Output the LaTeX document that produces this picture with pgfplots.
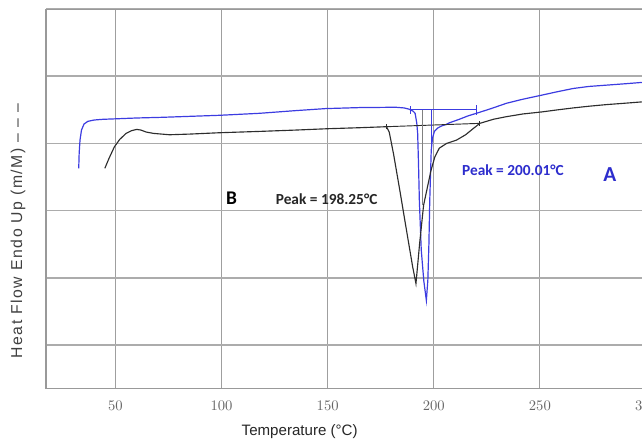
\documentclass[border=0pt]{standalone}
\usepackage{pgfplots}
\pgfplotsset{compat=1.18}
\usepackage{fontspec}
\setmainfont{Liberation Sans}
\newfontfamily\carlito{Carlito}
\newfontfamily\tickfont{Liberation Serif}
\usetikzlibrary{calc}
\definecolor{curveA}{RGB}{60,60,225}
\definecolor{textA}{RGB}{45,45,205}
\definecolor{curveB}{RGB}{45,45,45}
\definecolor{gridc}{RGB}{172,172,172}
\begin{document}
\begin{tikzpicture}
\begin{axis}[
  scale only axis, width=449.5pt, height=284.25pt,
  xmin=17.3, xmax=300, ymin=-0.657, ymax=5,
  xtick={50,100,...,300}, ytick={0,1,2,3,4,5}, yticklabels={},
  tick style={draw=none},
  grid=major,
  x grid style={draw=gray!75, line width=0.7pt},
  y grid style={draw=gridc, line width=1.4pt},
  axis line style={draw=gray!80, line width=1pt},
  xticklabel style={font=\tickfont\fontsize{11}{13}\selectfont, text=black!60, yshift=-6pt},
  xlabel={Temperature (\textdegree C)},
  xlabel style={at={(axis description cs:0.4227,-0.113)}, anchor=center, font=\fontsize{11.3}{13}\selectfont, text=black!85},
  ylabel={Heat Flow Endo Up (m/M) – – –},
  ylabel style={at={(axis description cs:-0.0467,0.415)}, anchor=center, rotate=0, font=\addfontfeature{LetterSpace=10}\fontsize{11.8}{13}\selectfont, text=black!75},
  clip=false,
]
% Curve A (blue)
\addplot[curveA, line width=0.9pt] coordinates {
(32.7,2.63) (32.9,2.85) (33.3,3.05) (34.0,3.2) (35.2,3.29) (37,3.33) (40,3.35) (44,3.36) (60,3.38) (72,3.39) (90,3.41) (99,3.42) (118,3.45) (135,3.49) (149,3.52) (165,3.535) (182,3.54) (186,3.53) (188.5,3.51) (190.3,3.48) (191.2,3.45) (192.0,3.3) (192.4,3.15) (192.8,2.7) (193.2,2.15) (194.1,1.41) (195.3,0.95) (196.5,0.66) (197.2,0.96) (197.7,1.5) (198.1,2.15) (198.8,2.9) (199.4,3.08) (200.3,3.18) (201.8,3.23) (203.6,3.26) (205.5,3.28) (207.5,3.31) (212,3.36) (216,3.41) (220.1,3.45) (227,3.52) (234.3,3.6) (242,3.66) (250.8,3.72) (258,3.77) (265.7,3.82) (273,3.85) (281.5,3.87) (290,3.89) (298,3.91)
};
% Curve B (black)
\addplot[curveB, line width=0.85pt] coordinates {
(45,2.63) (47,2.78) (49.5,2.95) (52,3.06) (55,3.15) (57.5,3.19) (60,3.21) (62,3.2) (64.5,3.17) (68,3.15) (75.5,3.13) (85,3.14) (99,3.16) (118,3.18) (135,3.2) (150,3.22) (165,3.235) (177.7,3.25) (179,3.17) (181,2.85) (184,2.3) (187.7,1.6) (190,1.17) (191.6,0.91) (193.3,1.5) (195.2,2.08) (198.7,2.6) (200.5,2.8) (202.6,2.93) (206,3.0) (210.7,3.05) (215,3.13) (218.5,3.22) (221.7,3.30) (228,3.36) (234.3,3.40) (242,3.44) (250.8,3.47) (258,3.50) (265.7,3.53) (273,3.555) (281.5,3.58) (290,3.60) (298,3.62)
};
% integration baselines and markers
\addplot[curveB, line width=0.7pt] coordinates {(177.7,3.25) (221.7,3.30)};
\addplot[curveB, line width=0.7pt] coordinates {(177.7,3.21) (177.7,3.29)};
\addplot[curveB, line width=0.7pt] coordinates {(221.7,3.26) (221.7,3.34)};
\addplot[curveA, line width=0.8pt] coordinates {(189,3.50) (220.1,3.50)};
\addplot[curveA, line width=0.8pt] coordinates {(189,3.44) (189,3.56)};
\addplot[curveA, line width=0.8pt] coordinates {(220.1,3.43) (220.1,3.57)};
\addplot[curveA, line width=0.7pt] coordinates {(198.9,3.50) (198.9,2.9)};
\addplot[gray, line width=0.6pt] coordinates {(194.8,3.50) (194.8,2.08)};
% annotations
\node[text=textA, font=\carlito\bfseries\fontsize{11.5}{13}\selectfont] at (axis cs:237.3,2.60) {Peak = 200.01°C};
\node[text=textA, font=\carlito\bfseries\fontsize{16}{18}\selectfont] at (axis cs:283,2.53) {A};
\node[text=black, font=\carlito\bfseries\fontsize{14.5}{16}\selectfont] at (axis cs:104.7,2.18) {B};
\node[text=black!85, font=\carlito\bfseries\fontsize{11.5}{13}\selectfont] at (axis cs:149.5,2.17) {Peak = 198.25°C};
\end{axis}
\pgfresetboundingbox
\path[use as bounding box] ($(current axis.south west)+(-34.5pt,-37.3pt)$) rectangle ($(current axis.south west)+(446.5pt,291.25pt)$);
\end{tikzpicture}
\end{document}
